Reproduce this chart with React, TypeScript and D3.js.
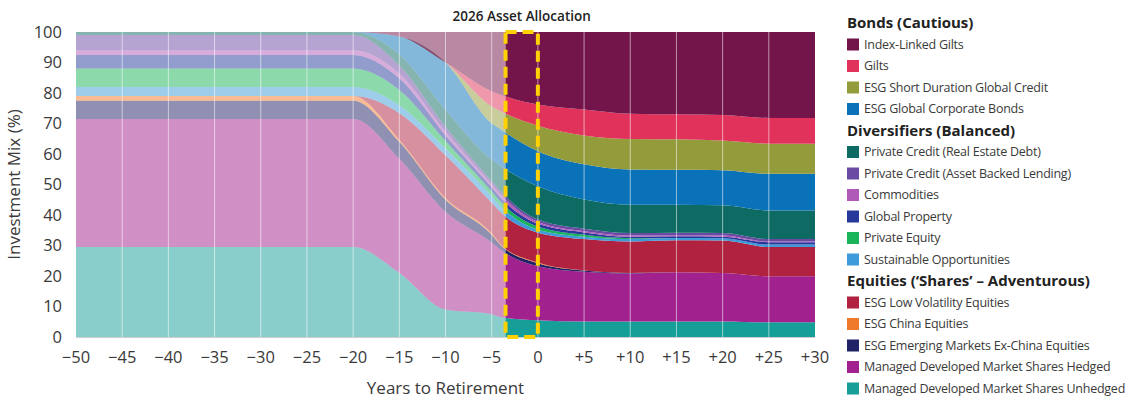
import React from 'react';
import * as d3 from 'd3';

const years = [-50, -20, -15, -10, -5, -4, 0, 5, 10, 15, 20, 25, 30];

// allocations (%), one array per fund, same order as years
const unhedged = [29.5, 29.5, 21, 9, 7.5, 6.5, 5.5, 5.1, 5.1, 5.1, 5.1, 4.8, 4.8];
const hedged = [42, 42, 37.5, 32, 23.5, 22, 17.7, 16.3, 15.7, 16.1, 15.9, 15.1, 15.1];
const emExChina = [6, 6, 5.5, 4, 2.5, 1.5, 1.0, 0.4, 0.2, 0, 0, 0, 0];
const china = [1.5, 1.5, 0.7, 0.6, 0.5, 0.3, 0.2, 0, 0, 0, 0, 0, 0];
const lowVol = [0, 0, 8.7, 14, 10, 10.5, 9.8, 10.3, 10.3, 10.5, 10.6, 9.6, 9.6];
const sustOpps = [3, 3, 2.6, 2.2, 2.2, 2, 1.0, 0.8, 0.8, 0.8, 0.8, 0.8, 0.8];
const privEquity = [6, 6, 5, 2.5, 1.6, 1.5, 1.0, 0.6, 0.3, 0, 0, 0, 0];
const globProperty = [4.5, 4.5, 3.8, 1.8, 1.3, 1.3, 1.0, 0.8, 0.5, 0.5, 0.5, 0.8, 0.8];
const commodities = [1.5, 1.5, 1.6, 1.2, 0.9, 1.0, 0.5, 0.4, 0.4, 0.4, 0.4, 0.2, 0.2];
const assetBacked = [5, 5, 2.6, 1.6, 1.1, 1.1, 0.8, 0.8, 0.8, 0.8, 0.8, 0.8, 0.8];
const realEstateDebt = [1, 1, 3.6, 5.5, 7, 8.3, 10.9, 9.6, 9.3, 9.2, 9.1, 9.4, 9.4];
const corpBonds = [0, 0, 5.9, 15.6, 12, 12, 11.5, 11.5, 11.5, 11.4, 11.5, 12, 12];
const shortDuration = [0, 0, 0, 0, 5.5, 6, 8.4, 9.5, 10, 10, 9.7, 9.9, 9.9];
const gilts = [0, 0, 0, 0, 5, 5.4, 6.9, 8.5, 8.3, 8.2, 8.4, 8.4, 8.4];
const indexLinked = [0, 0, 1.5, 10, 19.4, 20.6, 23.8, 25.4, 26.8, 27, 27.2, 28.2, 28.2];

// stack order, bottom to top
const series = [
  { key: 'unhedged', label: 'Managed Developed Market Shares Unhedged', color: '#169e98', values: unhedged },
  { key: 'hedged', label: 'Managed Developed Market Shares Hedged', color: '#a1218e', values: hedged },
  { key: 'em', label: 'ESG Emerging Markets Ex-China Equities', color: '#1f2266', values: emExChina },
  { key: 'china', label: 'ESG China Equities', color: '#f07a2b', values: china },
  { key: 'lowvol', label: 'ESG Low Volatility Equities', color: '#b0223f', values: lowVol },
  { key: 'sust', label: 'Sustainable Opportunities', color: '#3d9bd9', values: sustOpps },
  { key: 'pe', label: 'Private Equity', color: '#19b35a', values: privEquity },
  { key: 'prop', label: 'Global Property', color: '#26399b', values: globProperty },
  { key: 'comm', label: 'Commodities', color: '#b05ab8', values: commodities },
  { key: 'abl', label: 'Private Credit (Asset Backed Lending)', color: '#6b4aa3', values: assetBacked },
  { key: 'red', label: 'Private Credit (Real Estate Debt)', color: '#0d6b64', values: realEstateDebt },
  { key: 'corp', label: 'ESG Global Corporate Bonds', color: '#0a72b8', values: corpBonds },
  { key: 'short', label: 'ESG Short Duration Global Credit', color: '#949b3a', values: shortDuration },
  { key: 'gilts', label: 'Gilts', color: '#e0325a', values: gilts },
  { key: 'ilg', label: 'Index-Linked Gilts', color: '#73144a', values: indexLinked },
];

const xTicks = [-50, -45, -40, -35, -30, -25, -20, -15, -10, -5, 0, 5, 10, 15, 20, 25, 30];
const yTicks = [0, 10, 20, 30, 40, 50, 60, 70, 80, 90, 100];

// legend groups, top to bottom
const legendGroups = [
  { title: 'Bonds (Cautious)', keys: ['ilg', 'gilts', 'short', 'corp'] },
  { title: 'Diversifiers (Balanced)', keys: ['red', 'abl', 'comm', 'prop', 'pe', 'sust'] },
  { title: 'Equities (\u2018Shares\u2019 \u2013 Adventurous)', keys: ['lowvol', 'china', 'em', 'hedged', 'unhedged'] },
];

const highlightFrom = -3.5;
const highlightTo = 0;

const font = '"Open Sans", sans-serif';
const textColor = '#3a3a3a';

export default function App() {
  const width = 1126;
  const height = 402;
  const margin = { top: 32, right: 311, bottom: 65, left: 76 };
  const innerW = width - margin.left - margin.right;
  const innerH = height - margin.top - margin.bottom;

  const x = d3.scaleLinear().domain([-50, 30]).range([0, innerW]);
  const y = d3.scaleLinear().domain([0, 100]).range([innerH, 0]);

  const rows = years.map((yr, i) => {
    const row: any = { year: yr };
    series.forEach((s) => (row[s.key] = s.values[i]));
    return row;
  });
  const stacked = d3.stack().keys(series.map((s) => s.key))(rows);

  const area = d3
    .area<any>()
    .x((d) => x(d.data.year))
    .y0((d) => y(d[0]))
    .y1((d) => y(d[1]))
    .curve(d3.curveMonotoneX);

  const splitX = x(highlightFrom);

  // the whole stack, drawn once faded (past) and once in full colour (now onwards)
  const layers = (opacity: number) =>
    stacked.map((layer, i) => (
      <path key={layer.key} d={area(layer as any) || ''} fill={series[i].color} fillOpacity={opacity} />
    ));

  const seriesOf = (k: string) => series.find((s) => s.key === k)!;

  const legendRows: any[] = [];
  legendGroups.forEach((g) => {
    legendRows.push({ header: true, text: g.title });
    g.keys.forEach((k) => legendRows.push({ header: false, text: seriesOf(k).label, color: seriesOf(k).color }));
  });

  const fmt = (t: number) => (t < 0 ? '\u2212' + Math.abs(t) : t > 0 ? '+' + t : '0');

  React.useEffect(() => {
    document.body.style.margin = '0';
  }, []);

  return (
    <svg width={width} height={height} style={{ display: 'block', background: '#fff' }} fontFamily={font}>
      <defs>
        <clipPath id="fadedClip">
          <rect x={0} y={0} width={splitX} height={innerH} />
        </clipPath>
        <clipPath id="fullClip">
          <rect x={splitX} y={0} width={innerW - splitX} height={innerH} />
        </clipPath>
      </defs>

      <g transform={`translate(${margin.left},${margin.top})`}>
        <g clipPath="url(#fadedClip)">{layers(0.5)}</g>
        <g clipPath="url(#fullClip)">{layers(1)}</g>

        {/* vertical grid lines */}
        {xTicks
          .filter((t) => t > -50 && t < 30)
          .map((t) => (
            <line key={t} x1={x(t)} x2={x(t)} y1={0} y2={innerH} stroke="#fff" strokeOpacity={0.55} strokeWidth={1} />
          ))}
        <line x1={0} x2={innerW} y1={innerH + 0.5} y2={innerH + 0.5} stroke="#cfcfcf" strokeWidth={1} />

        {yTicks.map((t) => (
          <text key={t} x={-14} y={y(t)} dy="0.36em" textAnchor="end" fontSize={16.5} fill={textColor}>
            {t}
          </text>
        ))}
        {xTicks.map((t) => (
          <text key={t} x={x(t)} y={innerH + 26} textAnchor="middle" fontSize={16.5} fill={textColor}>
            {fmt(t)}
          </text>
        ))}

        <text x={innerW / 2} y={innerH + 57} textAnchor="middle" fontSize={17} fill={textColor}>
          Years to Retirement
        </text>
        <text
          transform={`translate(${-56},${innerH / 2}) rotate(-90)`}
          textAnchor="middle"
          fontSize={17}
          fill={textColor}
        >
          Investment Mix (%)
        </text>

        {/* highlighted current allocation */}
        <rect
          x={x(highlightFrom)}
          y={y(100)}
          width={x(highlightTo) - x(highlightFrom)}
          height={y(0) - y(100)}
          fill="none"
          stroke="#ffd100"
          strokeWidth={4}
          strokeDasharray="11 6"
        />
        <text
          x={(x(highlightFrom) + x(highlightTo)) / 2}
          y={-11}
          textAnchor="middle"
          fontSize={13.5}
          fontWeight={600}
          fill="#222"
        >
          2026 Asset Allocation
        </text>
      </g>

      {/* legend */}
      <g transform="translate(847,23)">
        {legendRows.map((r, i) =>
          r.header ? (
            <text key={i} x={0} y={i * 21.5} dy="0.35em" fontSize={15} fontWeight={700} fill="#222">
              {r.text}
            </text>
          ) : (
            <g key={i} transform={`translate(0,${i * 21.5})`}>
              <rect x={0} y={-6} width={12} height={12} fill={r.color} />
              <text x={17} y={0} dy="0.35em" fontSize={12.5} fill={textColor} letterSpacing={-0.25}>
                {r.text}
              </text>
            </g>
          )
        )}
      </g>
    </svg>
  );
}
